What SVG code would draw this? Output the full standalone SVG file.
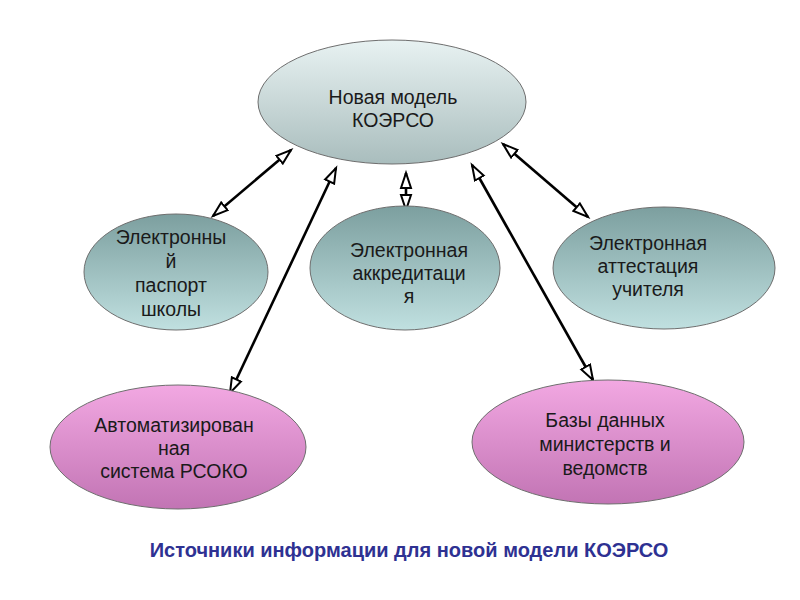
<svg xmlns="http://www.w3.org/2000/svg" width="800" height="600" viewBox="0 0 800 600">
<defs>
<linearGradient id="gTop" x1="0" y1="0" x2="0" y2="1">
<stop offset="0" stop-color="#e8f2f2"/>
<stop offset="1" stop-color="#a9bdbd"/>
</linearGradient>
<linearGradient id="gTeal" x1="0" y1="0" x2="0" y2="1">
<stop offset="0" stop-color="#7c9f9f"/>
<stop offset="1" stop-color="#c0e0e0"/>
</linearGradient>
<linearGradient id="gPink" x1="0" y1="0" x2="0" y2="1">
<stop offset="0" stop-color="#f2a8e2"/>
<stop offset="1" stop-color="#c274b4"/>
</linearGradient>
<marker id="ah" markerUnits="userSpaceOnUse" markerWidth="20" markerHeight="14" refX="16" refY="6" orient="auto-start-reverse" viewBox="0 0 20 12">
<path d="M1,1 L16,6 L1,11 Z" fill="#ffffff" stroke="#000000" stroke-width="2" stroke-linejoin="miter"/>
</marker>
<style>
.node ellipse{stroke:#6e6e6e;stroke-width:1}
.node text{font-family:"Liberation Sans",Arial,sans-serif;font-size:19.5px;fill:#1a1a1a;text-anchor:middle}
#connectors line{stroke:#000000;stroke-width:2.6;marker-start:url(#ah);marker-end:url(#ah)}
.title{font-family:"Liberation Sans",Arial,sans-serif;font-size:20px;font-weight:bold;fill:#2e3192;text-anchor:middle}
</style>
</defs>
<rect width="800" height="600" fill="#ffffff"/>
<g id="connectors">
<line x1="213" y1="216" x2="291" y2="150"/>
<line x1="230" y1="393" x2="336" y2="168"/>
<line x1="406" y1="173" x2="406" y2="210"/>
<line x1="503" y1="144" x2="588" y2="217"/>
<line x1="472" y1="165" x2="593" y2="380"/>
</g>
<g id="top" class="node">
<ellipse cx="392" cy="102" rx="134" ry="62" fill="url(#gTop)"/>
<text x="393" y="104">Новая модель</text>
<text x="393" y="127">КОЭРСО</text>
</g>
<g id="passport" class="node">
<ellipse cx="176" cy="272" rx="92" ry="58" fill="url(#gTeal)"/>
<text x="171" y="244">Электронны</text>
<text x="171" y="268">й</text>
<text x="171" y="292">паспорт</text>
<text x="171" y="316">школы</text>
</g>
<g id="accreditation" class="node">
<ellipse cx="405" cy="268" rx="95" ry="62" fill="url(#gTeal)"/>
<text x="409" y="257">Электронная</text>
<text x="409" y="280">аккредитаци</text>
<text x="409" y="303">я</text>
</g>
<g id="attestation" class="node">
<ellipse cx="664" cy="268" rx="111" ry="61" fill="url(#gTeal)"/>
<text x="648" y="250">Электронная</text>
<text x="648" y="273">аттестация</text>
<text x="648" y="296">учителя</text>
</g>
<g id="rsoko" class="node">
<ellipse cx="178" cy="447" rx="128" ry="62" fill="url(#gPink)"/>
<text x="174" y="432">Автоматизирован</text>
<text x="174" y="455">ная</text>
<text x="174" y="478">система РСОКО</text>
</g>
<g id="databases" class="node">
<ellipse cx="608" cy="442" rx="136" ry="62" fill="url(#gPink)"/>
<text x="605" y="427">Базы данных</text>
<text x="605" y="451">министерств и</text>
<text x="605" y="475">ведомств</text>
</g>
<text class="title" x="409" y="557">Источники информации для новой модели КОЭРСО</text>
</svg>
